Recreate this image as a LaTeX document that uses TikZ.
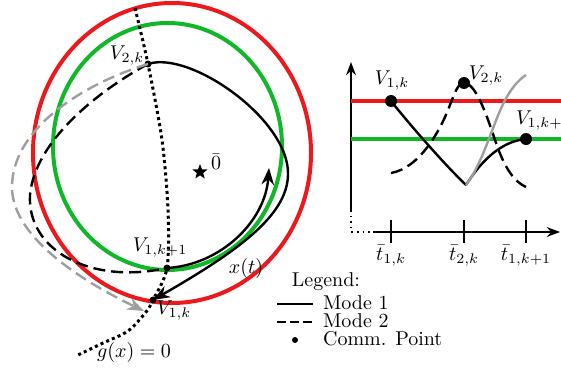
\documentclass[tikz,border=0pt]{standalone}
\usepackage{xcolor}
\usepackage{tikz}
\usetikzlibrary{shapes.geometric, arrows.meta, positioning, calc}
\usepackage{amsmath,amssymb}
\definecolor{LvlRed}{RGB}{236,24,28}
\definecolor{LvlGreen}{RGB}{16,184,40}
\definecolor{AltGray}{RGB}{158,158,158}

\begin{document}
\begin{tikzpicture}[x=0.5pt, y=-0.5pt, >=Stealth]
      \tikzstyle{lvl} = [line width=2pt]
      \tikzstyle{mode1} = [black, line width=1.2pt]
      \tikzstyle{mode2} = [black, line width=1.2pt, dash pattern=on 6pt off 3pt]
      \tikzstyle{guard} = [black, line width=1.5pt, dash pattern=on 1.5pt off 1.6pt]
      \tikzstyle{axis} = [black, line width=0.8pt]
      \tikzstyle{comm} = [circle, fill=black, inner sep=0pt, minimum size=3.5pt]
      \tikzstyle{commbig} = [circle, fill=black, inner sep=0pt, minimum size=6pt]

      \useasboundingbox (0,0) rectangle (561,369);

      % Level sets
      \draw[lvl, LvlRed] (172,153) ellipse [x radius=69.5pt, y radius=75pt];
      \draw[lvl, LvlGreen] (167.5,146.5) ellipse [x radius=57.25pt, y radius=61.75pt];

      % Communication points
      \node (v2k) [comm] at (148,64) {};
      \node (v1kp) [comm] at (167,268) {};
      \node (v1k) [comm] at (153,300) {};
      \coordinate (gtip) at (144,311);

      % Guard surface
      \draw[guard] plot[smooth] coordinates {(135,8) (v2k.center) (162,140) (168,210) (v1kp.center) (v1k.center) (146,312) (128,331) (103,343) (78,355)};

      % Trajectories
      \draw[mode1, ->] (v2k.center) .. controls (190,50) and (290,120) .. (288,175)
                                 .. controls (287,215) and (240,250) .. (v1k.center);
      \draw[mode2] (v2k.center) .. controls (100,90) and (35,140) .. (30,195)
                             .. controls (27,250) and (90,285) .. (v1kp.center);
      \draw[mode1, ->] (v1kp.center) .. controls (220,265) and (265,222) .. (269,168);
      \draw[mode2, AltGray, ->] (v2k.center) .. controls (80,85) and (12,130) .. (12,187)
                                          .. controls (12,240) and (90,285) .. (gtip);

      % Equilibrium
      \node (orig) [star, star points=5, star point ratio=2.4, fill=black, inner sep=0pt, minimum size=8pt] at (200,172) {};
      \node (origlbl) at (216,162) {$\bar{0}$};

      % Labels
      \node (lv2k) at (127,56) {$V_{2,k}$};
      \node (lv1kp) at (160,248) {$V_{1,k+1}$};
      \node (lv1k) at (174,311) {$V_{1,k}$};
      \node (lxt) at (246,268) {$x(t)$};
      \node (lg) at (134,352) {$g(x)=0$};

      % Time plot
      \coordinate (o) at (351,232);
      \draw[axis, ->] (351,210) -- (351,62);
      \draw[axis, dotted] (351,210) -- (o) -- (373,232);
      \draw[axis, ->] (373,232) -- (560,232);
      \foreach \x/\name/\txt in {391/t1/{\bar{t}_{1,k}}, 464/t2/{\bar{t}_{2,k}}, 526/t3/{\bar{t}_{1,k+1}}} {
        \draw[axis] (\x,220) -- (\x,243);
        \node (\name) at (\x,256) {$\txt$};
      }
      \draw[lvl, LvlRed] (351,101) -- (561,101);
      \draw[lvl, LvlGreen] (351,139) -- (561,139);

      \node (rv1k) [commbig] at (391,101) {};
      \node (rv2k) [commbig] at (464,83) {};
      \node (rv1kp) [commbig] at (526,139) {};
      \coordinate (trough) at (466,185);

      \draw[mode1] (rv1k.center) .. controls (410,125) and (445,165) .. (trough);
      \draw[mode1] (trough) .. controls (485,155) and (505,141) .. (rv1kp.center);
      \draw[mode2] (391,173) .. controls (420,168) and (440,130) .. (448,110)
                          .. controls (455,92) and (458,83) .. (rv2k.center)
                          .. controls (475,83) and (485,110) .. (495,140)
                          .. controls (505,170) and (515,182) .. (526,187);
      \draw[AltGray, line width=1.2pt] (trough) .. controls (485,160) and (495,115) .. (508,95)
                                              .. controls (514,85) and (520,79) .. (526,75);

      \node (rlv1k) at (392,81) {$V_{1,k}$};
      \node (rlv2k) at (486,76) {$V_{2,k}$};
      \node (rlv1kp) [anchor=west] at (509,121) {$V_{1,k+1}$};

      % Legend
      \node (leg) at (326,282) {Legend:};
      \draw[mode1] (277,304) -- (313,304);
      \node (m1) [anchor=west] at (316,303) {Mode 1};
      \draw[black, line width=1.2pt, dash pattern=on 4.5pt off 2pt] (277,322) -- (313,322);
      \node (m2) [anchor=west] at (316,321) {Mode 2};
      \node (ldot) [comm, minimum size=3pt] at (295,340) {};
      \node (m3) [anchor=west] at (316,339) {Comm. Point};
    \end{tikzpicture}
\end{document}
